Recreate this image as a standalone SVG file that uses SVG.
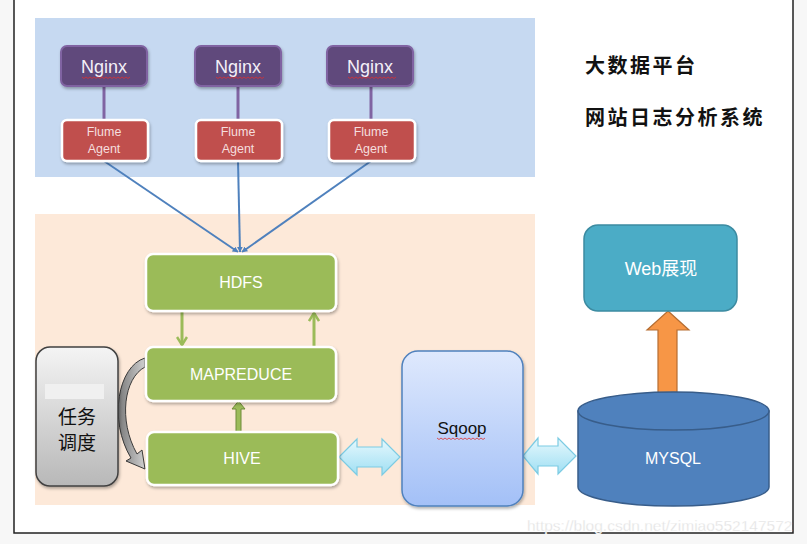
<svg xmlns="http://www.w3.org/2000/svg" width="807" height="544" viewBox="0 0 807 544">
<defs>
<style>
.nginx{fill:#604a7b;stroke:#8064a2;stroke-width:2}
.flume{fill:#c0504d;stroke:#ffffff;stroke-width:2.5}
.green{fill:#9bbb59;stroke:#ffffff;stroke-width:2.5}
.t{font-family:"Liberation Sans","Noto Sans",sans-serif;text-anchor:middle}
.nt{font-size:18px;fill:#f4f0f8}
.ft{font-size:12.5px;fill:#f5dede}
.gt{font-size:16px;fill:#ffffff}
.cjk{font-family:"Noto Sans CJK SC",sans-serif}
.sq{fill:none;stroke:#e03030;stroke-width:0.8}
.pl{stroke:#8064a2;stroke-width:3}
.bl{stroke:#4f81bd;stroke-width:2;fill:none}
.ga{stroke:#9bbb59;stroke-width:3;fill:none}
.dbl{fill:url(#cyanG);stroke:#7ccbe3;stroke-width:1.2}
</style>
<filter id="sh" x="-10%" y="-10%" width="130%" height="140%">
<feDropShadow dx="1" dy="2" stdDeviation="1.5" flood-color="#000" flood-opacity="0.3"/>
</filter>
<linearGradient id="grayG" x1="0" y1="0" x2="0" y2="1">
<stop offset="0" stop-color="#f4f4f4"/>
<stop offset="1" stop-color="#b8b8b8"/>
</linearGradient>
<linearGradient id="sqoopG" x1="0" y1="0" x2="0" y2="1">
<stop offset="0" stop-color="#dfe9fd"/>
<stop offset="1" stop-color="#a3c0f7"/>
</linearGradient>
<linearGradient id="cyanG" x1="0" y1="0" x2="0" y2="1">
<stop offset="0" stop-color="#e6f8fd"/>
<stop offset="1" stop-color="#9fdff3"/>
</linearGradient>
<linearGradient id="curveG" x1="0" y1="0" x2="1" y2="0">
<stop offset="0" stop-color="#7a7a7a"/>
<stop offset="1" stop-color="#d0d0d0"/>
</linearGradient>
<marker id="ab" viewBox="0 0 10 10" refX="9" refY="5" markerWidth="6" markerHeight="6" orient="auto" markerUnits="userSpaceOnUse">
<path d="M0,0 L10,5 L0,10 Z" fill="#4f81bd"/>
</marker>
<marker id="ag" viewBox="0 0 12 12" refX="10" refY="6" markerWidth="12" markerHeight="12" orient="auto" markerUnits="userSpaceOnUse">
<path d="M2,1 L10,6 L2,11" fill="none" stroke="#9bbb59" stroke-width="2.5"/>
</marker>
</defs>

<rect x="0" y="0" width="807" height="544" fill="#f7f7f7"/>
<rect x="14" y="-2" width="779" height="535" fill="#ffffff" stroke="#222222" stroke-width="1.5"/>

<g id="regions">
<rect x="35" y="18" width="500" height="159" fill="#c6d9f1"/>
<rect x="35" y="214" width="500" height="291" fill="#fde9d9"/>
</g>

<g id="title" class="cjk" font-size="20" font-weight="bold" fill="#111" letter-spacing="2.5">
<text x="585" y="73">大数据平台</text>
<text x="585" y="125">网站日志分析系统</text>
</g>

<g id="connectors">
<line class="pl" x1="104" y1="86" x2="104" y2="120"/>
<line class="pl" x1="238" y1="86" x2="238" y2="120"/>
<line class="pl" x1="371" y1="86" x2="371" y2="120"/>
<line class="bl" x1="104" y1="161" x2="238" y2="252" marker-end="url(#ab)"/>
<line class="bl" x1="238" y1="161" x2="240" y2="252" marker-end="url(#ab)"/>
<line class="bl" x1="371" y1="161" x2="242" y2="252" marker-end="url(#ab)"/>
<line class="ga" x1="182" y1="312" x2="182" y2="345" marker-end="url(#ag)"/>
<line class="ga" x1="314" y1="347" x2="314" y2="313" marker-end="url(#ag)"/>
<path d="M236,432 L236,409 L232,409 L238.5,401 L245,409 L241,409 L241,432 Z" fill="#9bbb59" stroke="#6f8b3a" stroke-width="1"/>
<path d="M145,358 C118,366 108,420 131,458 L126,461 L145,469 L142,450 L137,454 C118,420 124,378 145,367 Z" fill="url(#curveG)" stroke="#3a3a3a" stroke-width="1"/>
<path class="dbl" d="M339,457 L357,439 L357,447 L382,447 L382,439 L400,457 L382,475 L382,467 L357,467 L357,475 Z"/>
<path class="dbl" d="M523,456 L538,438 L538,446 L558,446 L558,438 L576,456 L558,474 L558,466 L538,466 L538,474 Z"/>
<path d="M668,311 L689,330 L677,330 L677,396 L658,396 L658,330 L647,330 Z" fill="#f79646" stroke="#b66d31" stroke-width="1.2"/>
</g>

<g id="nginx1"><rect class="nginx" x="61" y="46" width="86" height="40" rx="6" filter="url(#sh)"/><text class="t nt" x="104" y="73">Nginx</text><path class="sq" d="M82,77 l2,1.5 l2,-1.5 l2,1.5 l2,-1.5 l2,1.5 l2,-1.5 l2,1.5 l2,-1.5 l2,1.5 l2,-1.5 l2,1.5 l2,-1.5 l2,1.5 l2,-1.5 l2,1.5 l2,-1.5 l2,1.5 l2,-1.5 l2,1.5 l2,-1.5 l2,1.5 l2,-1.5 l2,1.5 l2,-1.5"/></g>
<g id="nginx2"><rect class="nginx" x="195" y="46" width="86" height="40" rx="6" filter="url(#sh)"/><text class="t nt" x="238" y="73">Nginx</text><path class="sq" d="M216,77 l2,1.5 l2,-1.5 l2,1.5 l2,-1.5 l2,1.5 l2,-1.5 l2,1.5 l2,-1.5 l2,1.5 l2,-1.5 l2,1.5 l2,-1.5 l2,1.5 l2,-1.5 l2,1.5 l2,-1.5 l2,1.5 l2,-1.5 l2,1.5 l2,-1.5 l2,1.5 l2,-1.5 l2,1.5 l2,-1.5"/></g>
<g id="nginx3"><rect class="nginx" x="327" y="46" width="86" height="40" rx="6" filter="url(#sh)"/><text class="t nt" x="370" y="73">Nginx</text><path class="sq" d="M348,77 l2,1.5 l2,-1.5 l2,1.5 l2,-1.5 l2,1.5 l2,-1.5 l2,1.5 l2,-1.5 l2,1.5 l2,-1.5 l2,1.5 l2,-1.5 l2,1.5 l2,-1.5 l2,1.5 l2,-1.5 l2,1.5 l2,-1.5 l2,1.5 l2,-1.5 l2,1.5 l2,-1.5 l2,1.5 l2,-1.5"/></g>

<g id="flume1"><rect class="flume" x="62" y="120" width="86" height="41" rx="5" filter="url(#sh)"/><text class="t ft" x="104" y="136">Flume</text><text class="t ft" x="104" y="153">Agent</text></g>
<g id="flume2"><rect class="flume" x="196" y="120" width="86" height="41" rx="5" filter="url(#sh)"/><text class="t ft" x="238" y="136">Flume</text><text class="t ft" x="238" y="153">Agent</text></g>
<g id="flume3"><rect class="flume" x="329" y="120" width="86" height="41" rx="5" filter="url(#sh)"/><text class="t ft" x="371" y="136">Flume</text><text class="t ft" x="371" y="153">Agent</text></g>

<g id="hdfs"><rect class="green" x="146" y="254" width="190" height="57" rx="7" filter="url(#sh)"/><text class="t gt" x="241" y="288">HDFS</text></g>
<g id="mapreduce"><rect class="green" x="146" y="347" width="190" height="54" rx="7" filter="url(#sh)"/><text class="t gt" x="241" y="380">MAPREDUCE</text></g>
<g id="hive"><rect class="green" x="147" y="432" width="191" height="53" rx="7" filter="url(#sh)"/><text class="t gt" x="242" y="464">HIVE</text></g>

<g id="scheduler"><rect x="36" y="347" width="82" height="139" rx="14" fill="url(#grayG)" stroke="#404040" stroke-width="1.5" filter="url(#sh)"/><rect x="45" y="384" width="59" height="15" fill="#f0f0f0"/><text class="cjk" font-size="19" text-anchor="middle" fill="#111"><tspan x="77" y="424">任务</tspan><tspan x="77" y="450">调度</tspan></text></g>

<g id="sqoop"><rect x="402" y="351" width="121" height="155" rx="16" fill="url(#sqoopG)" stroke="#4f81bd" stroke-width="1.5" filter="url(#sh)"/><text class="t" x="462" y="434" font-size="17" fill="#111">Sqoop</text><path class="sq" d="M437,438 l2,1.5 l2,-1.5 l2,1.5 l2,-1.5 l2,1.5 l2,-1.5 l2,1.5 l2,-1.5 l2,1.5 l2,-1.5 l2,1.5 l2,-1.5 l2,1.5 l2,-1.5 l2,1.5 l2,-1.5 l2,1.5 l2,-1.5 l2,1.5 l2,-1.5 l2,1.5 l2,-1.5 l2,1.5 l2,-1.5"/></g>

<g id="web"><rect x="584" y="225" width="153" height="86" rx="14" fill="#4bacc6" stroke="#3c8ba1" stroke-width="1.5"/><text x="661" y="275" font-size="18" text-anchor="middle" fill="#ffffff" font-family="Liberation Sans,Noto Sans CJK SC,sans-serif">Web展现</text></g>

<g id="mysql"><path d="M578,411 L578,487 A95.5,19 0 0 0 769,487 L769,411 Z" fill="#4f81bd" stroke="#385d8a" stroke-width="1.5"/><ellipse cx="673.5" cy="411" rx="95.5" ry="19" fill="#4f81bd" stroke="#385d8a" stroke-width="1.5"/><text class="t gt" x="673" y="464" font-size="17">MYSQL</text></g>

<text x="527" y="531" font-family="Liberation Sans,sans-serif" font-size="15.5" fill="#e2e2e2" stroke="#ffffff" stroke-width="0.3">https://blog.csdn.net/zimiao552147572</text>
</svg>
